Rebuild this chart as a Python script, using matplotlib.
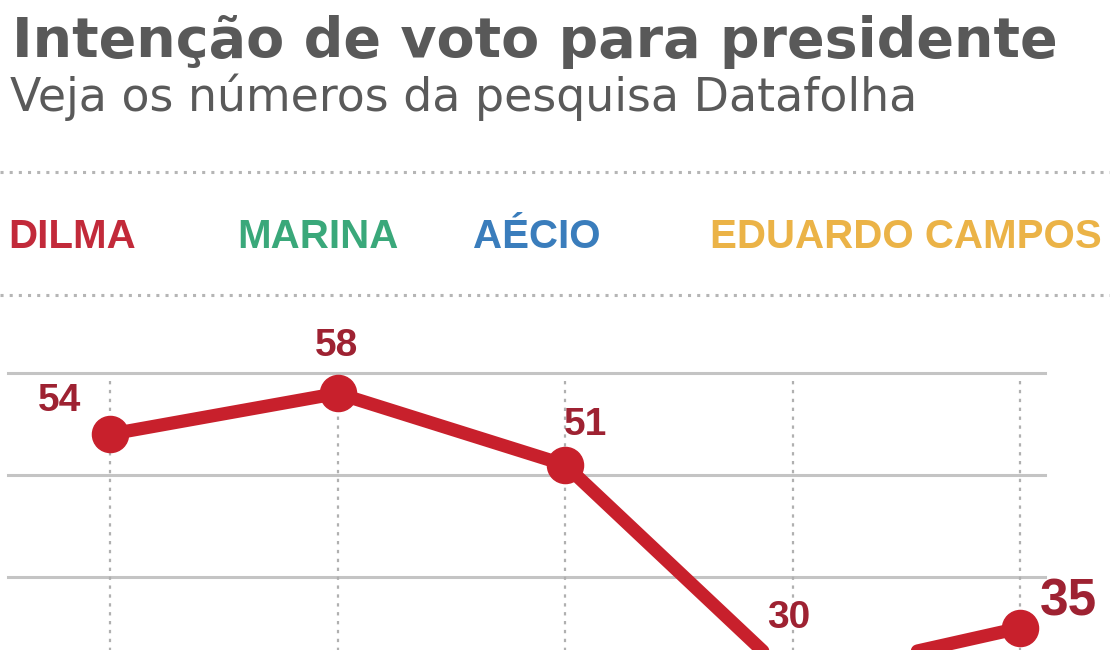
import matplotlib.pyplot as plt
from matplotlib.lines import Line2D

# data (the x axis is cut off in the original)
surveys = [0, 1, 2, 3, 4]
dilma = [54, 58, 51, 30, 35]
candidates = ["DILMA", "MARINA", "AÉCIO", "EDUARDO CAMPOS"]
cand_colors = ["#c22a3a", "#3aa87a", "#3a7dbc", "#ebb347"]
grid_values = [60, 50, 40, 30]

# label placement, offsets in points from each point
label_offsets = [(-36, 24), (-1, 34), (15, 29), (-3, 44), (35, 19)]

plt.rcParams["font.family"] = ["Liberation Sans", "DejaVu Sans"]

fig = plt.figure(figsize=(11.1, 6.5), dpi=100)
W, H = 1110, 650

# title block
fig.text(12 / W, 1 - 57 / H, "Intenção de voto para presidente", fontsize=40,
         fontweight="bold", color="#595959", va="baseline", ha="left",
         family=["DejaVu Sans"])
fig.text(10 / W, 1 - 111 / H, "Veja os números da pesquisa Datafolha", fontsize=33,
         color="#5a5a5a", va="baseline", ha="left", family=["DejaVu Sans"])

# dotted separators round the legend
for yy in (172, 295):
    fig.add_artist(Line2D([0, 1], [1 - yy / H, 1 - yy / H], transform=fig.transFigure,
                          color="#b5b5b5", lw=2.2, linestyle=(0, (1, 2))))

legend_x = [8, 237, 473, 710]
for name, col, lx in zip(candidates, cand_colors, legend_x):
    fig.text(lx / W, 1 - 248 / H, name, fontsize=29, fontweight="bold", color=col,
             va="baseline", ha="left")

# plot area: goes past the bottom of the figure, as in the cropped original
top_px, bot_px = 330, 720
ax = fig.add_axes([0, 1 - bot_px / H, 1, (bot_px - top_px) / H])
px_per_unit = 10.2
ax.set_ylim(60 - (bot_px - 373) / px_per_unit, 60 + (373 - top_px) / px_per_unit)
ax.set_xlim(-110 / 227.5, (W - 110) / 227.5)
ax.axis("off")

for g in grid_values:
    ax.axhline(g, xmin=8 / W, xmax=1045 / W, color="#c4c4c4", lw=2.2, zorder=1)
for s in surveys:
    ax.axvline(s, ymin=0, ymax=0.87, color="#b0b0b0", lw=1.6,
               linestyle=(0, (1.5, 2.5)), zorder=1)

ax.plot(surveys, dilma, color="#c8202c", lw=9.5, marker="o", markersize=26,
        solid_capstyle="round", zorder=3, clip_on=False)

for i, (s, v) in enumerate(zip(surveys, dilma)):
    last = i == len(dilma) - 1
    ax.annotate(str(v), xy=(s, v), xytext=label_offsets[i], textcoords="offset points",
                ha="center", va="center", fontsize=37 if last else 28,
                fontweight="bold", color="#9e2232", zorder=4)

fig.savefig("out.png", dpi=100)
